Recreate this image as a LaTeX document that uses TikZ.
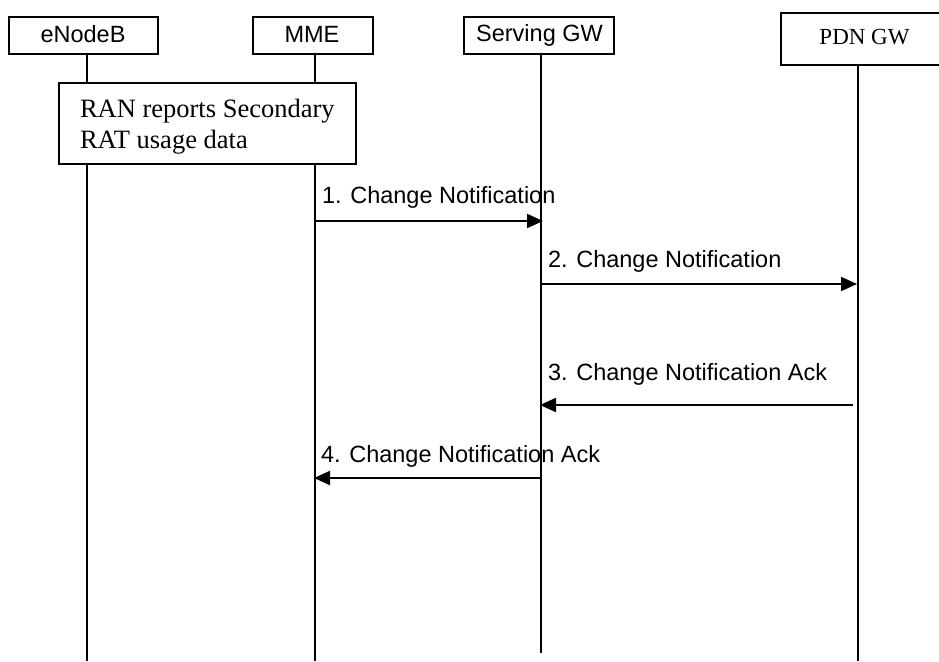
\documentclass[tikz,border=0pt]{standalone}
\usepackage{fontspec}
\setmainfont{Liberation Serif}
\setsansfont{Liberation Sans}
\usetikzlibrary{arrows.meta}
\begin{document}
\begin{tikzpicture}[x=1pt,y=-1pt,
  line width=2pt,
  ent/.style={draw, line width=2pt, inner sep=0pt, anchor=north west},
  sanslbl/.style={font=\sffamily\fontsize{23.5}{27}\selectfont, inner sep=0pt, anchor=base west},
  seriflbl/.style={font=\rmfamily\fontsize{26.5}{31}\selectfont, inner sep=0pt, anchor=base west},
  life/.style={line width=2pt},
  msg/.style={line width=2pt, -{Triangle[length=16pt,width=14pt]}}]
\useasboundingbox (0,0) rectangle (939,661);
% entity boxes
\node[ent, minimum width=149pt, minimum height=37pt] (enb) at (8,16) {};
\node[ent, minimum width=120pt, minimum height=37pt] (mme) at (252,16) {};
\node[ent, minimum width=150pt, minimum height=37pt] (sgw) at (463,16) {};
\node[ent, minimum width=162pt, minimum height=52pt] (pgw) at (780,12) {};
\node[sanslbl, anchor=base] (enbt) at (83,43) {eNodeB};
\node[sanslbl, anchor=base] (mmet) at (312,43) {MME};
\node[sanslbl, anchor=base] (sgwt) at (539.5,42) {Serving GW};
\node[font=\rmfamily\fontsize{23}{27}\selectfont, inner sep=0pt, anchor=base] (pgwt) at (864.5,45) {PDN GW};
% RAN box
\node[ent, minimum width=297pt, minimum height=81pt] (ran) at (58,82) {};
\node[seriflbl] (ran1) at (79,117) {RAN reports Secondary};
\node[seriflbl] (ran2) at (79,148) {RAT usage data};
% lifeline coordinates
\coordinate (enbA) at (87,53);  \coordinate (enbB) at (87,82);
\coordinate (enbC) at (87,163); \coordinate (enbD) at (87,661);
\coordinate (mmeA) at (315,53); \coordinate (mmeB) at (315,82);
\coordinate (mmeC) at (315,163); \coordinate (mmeD) at (315,661);
\coordinate (sgwA) at (541,53); \coordinate (sgwD) at (541,653);
\coordinate (pgwA) at (858,64); \coordinate (pgwD) at (858,661);
\draw[life] (enbA) -- (enbB);
\draw[life] (enbC) -- (enbD);
\draw[life] (mmeA) -- (mmeB);
\draw[life] (mmeC) -- (mmeD);
\draw[life] (sgwA) -- (sgwD);
\draw[life] (pgwA) -- (pgwD);
% message coordinates
\coordinate (m1) at (315,221); \coordinate (s1) at (543,221);
\coordinate (s2) at (541,284); \coordinate (p2) at (857,284);
\coordinate (p3) at (853,405); \coordinate (s3) at (540,405);
\coordinate (s4) at (541,478); \coordinate (m4) at (314,478);
\draw[msg] (m1) -- (s1);
\draw[msg] (s2) -- (p2);
\draw[msg] (p3) -- (s3);
\draw[msg] (s4) -- (m4);
\node[sanslbl] (l1) at (321,203) {1. Change Notification};
\node[sanslbl] (l2) at (547,267) {2. Change Notification};
\node[sanslbl] (l3) at (547,380) {3. Change Notification Ack};
\node[sanslbl] (l4) at (320,462) {4. Change Notification Ack};
\end{tikzpicture}
\end{document}
